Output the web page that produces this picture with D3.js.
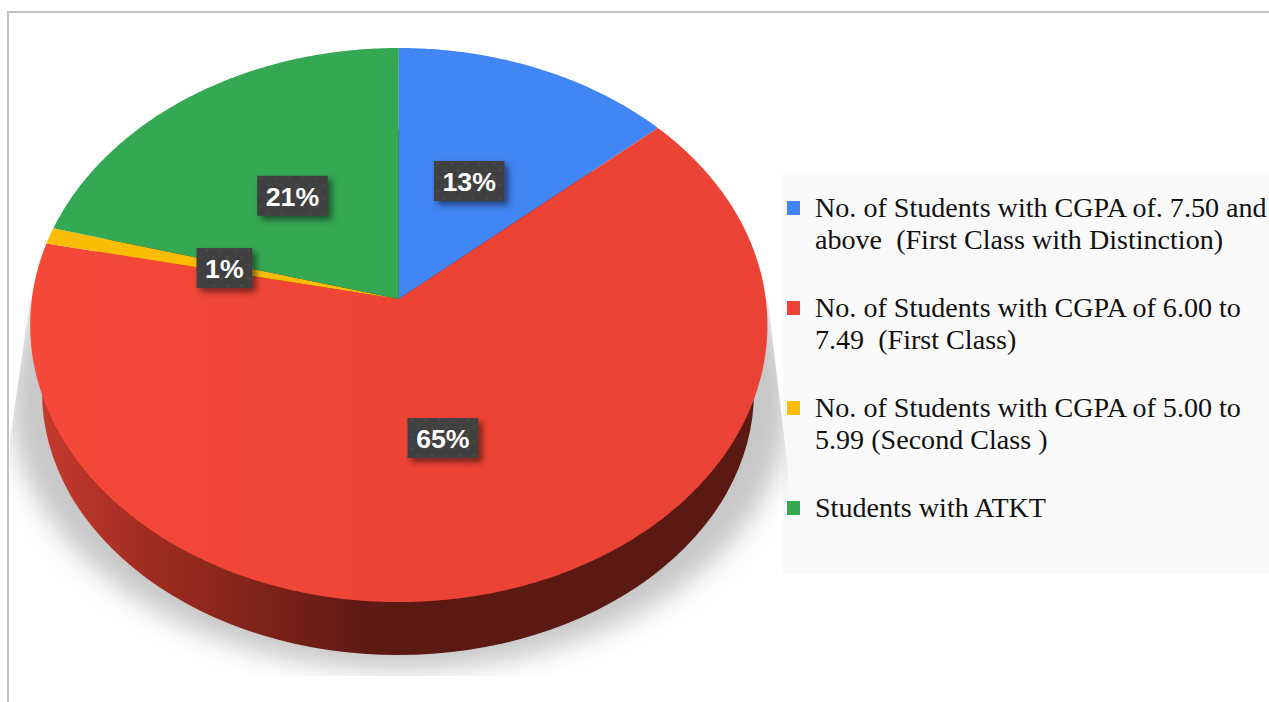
<!DOCTYPE html>
<html>
<head>
<meta charset="utf-8">
<style>
html, body { margin: 0; padding: 0; background: #fff; overflow: hidden; }
svg { display: block; }
.pct { font-family: "Liberation Sans", Arial, sans-serif; font-weight: bold; font-size: 26.7px; fill: #fff; text-anchor: middle; }
.leg { font-family: "Liberation Serif", "Times New Roman", serif; font-size: 28.1px; fill: #111; white-space: pre; }
</style>
<title>CGPA pie</title>
<script src="https://cdn.jsdelivr.net/npm/d3@7/dist/d3.min.js"></script>
</head>
<body>
<svg width="1269" height="702"></svg>
<script>

var categories = [
  ["No. of Students with CGPA of. 7.50 and", "above  (First Class with Distinction)"],
  ["No. of Students with CGPA of 6.00 to", "7.49  (First Class)"],
  ["No. of Students with CGPA of 5.00 to", "5.99 (Second Class )"],
  ["Students with ATKT"]
];
var percents = [13.49, 64.81, 0.95, 20.75];
var colors = ["#4285f4", "#ea4335", "#fbbc04", "#34a853"];

var svg = d3.select("svg");
var defs = svg.append("defs");

// the pie is seen in perspective, so the apex is above the centre of the ellipse
var apex = {x: 398.8, y: 299},
    a = 367, b = 274.6, k = -0.0939;

// hand placed labels, they do not sit exactly on the slice middle
var labelNudge = [[-2, 0], [-5, -2], [2, -1], [1, 0]];

function project(angle, f) {
  var u = Math.sin(angle) * f, v = -Math.cos(angle) * f, w = 1 + k * v;
  return [apex.x + a * u / w, apex.y + b * v / w];
}

function rim(a0, a1) {
  var n = Math.max(2, Math.ceil((a1 - a0) / 0.01));
  return d3.range(n + 1).map(function(i) { return project(a0 + (a1 - a0) * i / n, 1); });
}

var pie = d3.pie().sort(null)(percents);
var line = d3.line().curve(d3.curveLinearClosed);

var redFill = defs.append("linearGradient").attr("id", "redFill");
redFill.append("stop").attr("offset", "0%").attr("stop-color", "#f5493a");
redFill.append("stop").attr("offset", "60%").attr("stop-color", "#ec4334");
redFill.append("stop").attr("offset", "100%").attr("stop-color", "#ea4335");

var wall = defs.append("linearGradient").attr("id", "wall");
wall.append("stop").attr("offset", "0%").attr("stop-color", "#c43a2d");
wall.append("stop").attr("offset", "15%").attr("stop-color", "#a02c21");
wall.append("stop").attr("offset", "30%").attr("stop-color", "#80231a");
wall.append("stop").attr("offset", "45%").attr("stop-color", "#5f1a13");
wall.append("stop").attr("offset", "52%").attr("stop-color", "#5a1913");
wall.append("stop").attr("offset", "100%").attr("stop-color", "#5a1913");

defs.append("filter").attr("id", "blur")
    .attr("x", "-20%").attr("y", "-20%").attr("width", "140%").attr("height", "140%")
  .append("feGaussianBlur").attr("stdDeviation", 13);

var boxShadow = defs.append("filter").attr("id", "boxShadow")
    .attr("x", "-30%").attr("y", "-30%").attr("width", "170%").attr("height", "170%");
boxShadow.append("feDropShadow")
    .attr("dx", 4).attr("dy", 4).attr("stdDeviation", 3)
    .attr("flood-color", "#000").attr("flood-opacity", 0.5);

var dots = defs.append("pattern").attr("id", "dots")
    .attr("width", 14).attr("height", 14).attr("patternUnits", "userSpaceOnUse");
dots.append("rect").attr("width", 14).attr("height", 14).attr("fill", "#404040");
dots.append("circle").attr("cx", 3.5).attr("cy", 3.5).attr("r", 1.2).attr("fill", "#4d4d4d");
dots.append("circle").attr("cx", 10.5).attr("cy", 10.5).attr("r", 1.2).attr("fill", "#4d4d4d");

defs.append("clipPath").attr("id", "shadowClip")
  .append("polygon").attr("points", "30,300 768,300 788,470 788,676 10,676 10,440");

// legend panel
svg.append("rect").attr("x", 783).attr("y", 173).attr("width", 486).attr("height", 400).attr("fill", "#f9f9f9");

// frame
svg.append("path").attr("d", "M8,702V12H1269").attr("fill", "none").attr("stroke", "#bfbfbf").attr("stroke-width", 2);

// floor shadow
svg.append("g").attr("clip-path", "url(#shadowClip)")
  .append("ellipse")
    .attr("cx", 400).attr("cy", 400).attr("rx", 390).attr("ry", 270)
    .attr("fill", "#c8c8c8").attr("filter", "url(#blur)");

// side wall
svg.append("ellipse")
    .attr("cx", 398).attr("cy", 392).attr("rx", 356).attr("ry", 263)
    .attr("fill", "url(#wall)");

// top face
svg.selectAll(".slice")
  .data(pie)
  .enter().append("path")
    .attr("class", "slice")
    .attr("d", function(d) { return line([[apex.x, apex.y]].concat(rim(d.startAngle, d.endAngle))); })
    .attr("fill", function(d, i) { return i == 1 ? "url(#redFill)" : colors[i]; });

// percent labels
var labels = svg.selectAll(".label")
  .data(pie)
  .enter().append("g")
    .attr("class", "label")
    .attr("transform", function(d, i) {
      var p = project((d.startAngle + d.endAngle) / 2, 0.5);
      return "translate(" + (p[0] + labelNudge[i][0]) + "," + (p[1] + 2 + labelNudge[i][1]) + ")";
    });

labels.append("rect")
    .attr("fill", "url(#dots)")
    .attr("filter", "url(#boxShadow)");

labels.append("text")
    .attr("class", "pct")
    .attr("y", 10)
    .text(function(d) { return Math.round(d.value) + "%"; });

labels.each(function() {
  var g = d3.select(this), w = g.select("text").node().getBBox().width + 17;
  g.select("rect").attr("x", -w / 2).attr("y", -20).attr("width", w).attr("height", 40);
});

// legend
var yLeg = d3.scalePoint().domain(d3.range(categories.length)).range([201, 501]);

var legend = svg.selectAll(".legend")
  .data(categories)
  .enter().append("g")
    .attr("class", "legend")
    .attr("transform", function(d, i) { return "translate(787," + yLeg(i) + ")"; });

legend.append("rect")
    .attr("width", 13).attr("height", 14)
    .attr("fill", function(d, i) { return colors[i]; });

legend.selectAll("text")
  .data(function(d) { return d; })
  .enter().append("text")
    .attr("class", "leg")
    .attr("x", 28)
    .attr("y", function(d, i) { return 16 + i * 32; })
    .text(function(d) { return d; });

</script>
</body>
</html>
